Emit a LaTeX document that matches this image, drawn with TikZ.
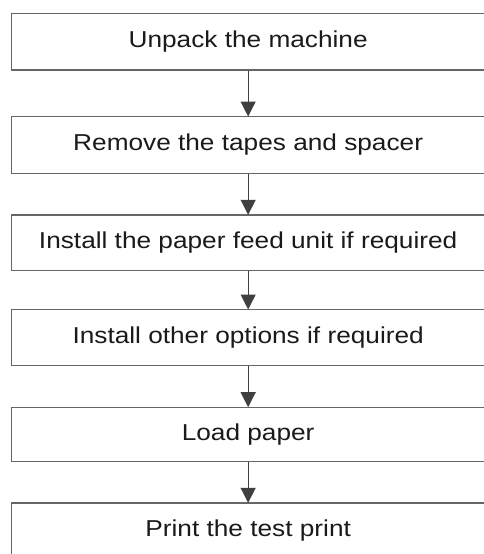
\documentclass[tikz,border=0pt]{standalone}
\usepackage{fontspec}
\setmainfont[FakeStretch=1.14]{Liberation Sans}
\usetikzlibrary{arrows.meta}
\definecolor{edgegray}{HTML}{666666}
\definecolor{txt}{HTML}{1A1A1A}
\begin{document}
\begin{tikzpicture}[x=1pt,y=-1pt,
  stepbox/.style={draw=edgegray,line width=1.3pt,fill=white,text=txt,font=\fontsize{23}{27}\selectfont,anchor=north west,minimum width=473pt},
  flow/.style={draw=black!75,line width=1.1pt,-{Triangle[width=15pt,length=15pt]},shorten >=-0.5pt}]
\useasboundingbox (0,0) rectangle (483,554);
\node[stepbox,minimum height=56.6pt] (b1) at (11,12.7) {Unpack the machine};
\node[stepbox,minimum height=56.7pt] (b2) at (11,116) {Remove the tapes and spacer};
\node[stepbox,minimum height=55.7pt] (b3) at (11,214.3) {Install the paper feed unit if required};
\node[stepbox,minimum height=56pt] (b4) at (11,309) {Install other options if required};
\node[stepbox,minimum height=54.3pt] (b5) at (11,406.7) {Load paper};
\node[stepbox,minimum height=56pt] (b6) at (11,502.3) {Print the test print};
\draw[flow] (b1.south) -- (b2.north);
\draw[flow] (b2.south) -- (b3.north);
\draw[flow] (b3.south) -- (b4.north);
\draw[flow] (b4.south) -- (b5.north);
\draw[flow] (b5.south) -- (b6.north);
\end{tikzpicture}
\end{document}
